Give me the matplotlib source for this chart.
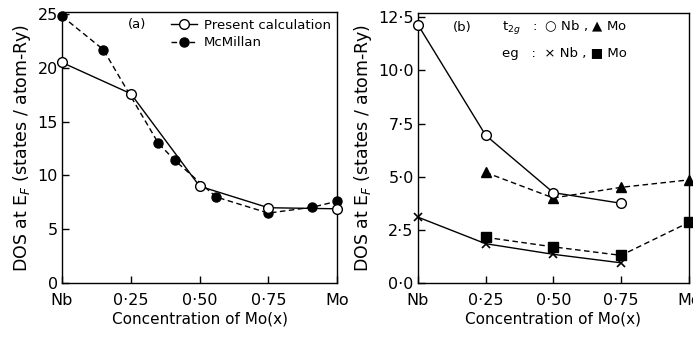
import matplotlib.pyplot as plt

# panel (a): total DOS at E_F
present_x = [0.0, 0.25, 0.50, 0.75, 1.0]
present_y = [20.5, 17.6, 9.0, 7.0, 6.9]
mcmillan_x = [0.0, 0.15, 0.35, 0.41, 0.56, 0.75, 0.91, 1.0]
mcmillan_y = [24.8, 21.7, 13.0, 11.4, 8.0, 6.5, 7.05, 7.6]

# panel (b): partial DOS
t2g_nb_x = [0.0, 0.25, 0.50, 0.75]
t2g_nb_y = [12.15, 6.95, 4.25, 3.75]
t2g_mo_x = [0.25, 0.50, 0.75, 1.0]
t2g_mo_y = [5.2, 4.0, 4.5, 4.85]
eg_nb_x = [0.0, 0.25, 0.50, 0.75]
eg_nb_y = [3.1, 1.85, 1.35, 0.95]
eg_mo_x = [0.25, 0.50, 0.75, 1.0]
eg_mo_y = [2.15, 1.7, 1.3, 2.85]

x_ticks = [0.0, 0.25, 0.50, 0.75, 1.0]
x_labels = ["Nb", "0·25", "0·50", "0·75", "Mo"]
ya_ticks = [0, 5, 10, 15, 20, 25]
yb_ticks = [0.0, 2.5, 5.0, 7.5, 10.0, 12.5]
yb_labels = ["0·0", "2·5", "5·0", "7·5", "10·0", "12·5"]

plt.rcParams["font.family"] = ["DejaVu Sans"]
dash = (0, (4, 2.5))

fig = plt.figure(figsize=(6.93, 3.41), dpi=100)
ax1 = fig.add_axes([0.0895, 0.170, 0.397, 0.795])
ax2 = fig.add_axes([0.603, 0.170, 0.391, 0.792])

ax1.plot(present_x, present_y, "-", color="black", lw=1.0, marker="o",
         ms=7, mfc="white", mec="black", mew=1.0, clip_on=False,
         label="Present calculation", zorder=3)
ax1.plot(mcmillan_x, mcmillan_y, color="black", lw=1.0, ls=dash, marker="o",
         ms=6.5, mfc="black", mec="black", clip_on=False,
         label="McMillan", zorder=2)
ax1.set_xlim(0, 1)
ax1.set_ylim(0, 25.2)
ax1.set_yticks(ya_ticks)
ax1.legend(loc="upper right", frameon=False, fontsize=9.5, handlelength=2.0,
           handletextpad=0.5, borderaxespad=0.1, labelspacing=0.35)
ax1.text(0.24, 0.955, "(a)", transform=ax1.transAxes, fontsize=9.5,
         ha="left", va="center")

ax2.plot(t2g_nb_x, t2g_nb_y, "-", color="black", lw=1.0, marker="o", ms=7,
         mfc="white", mec="black", mew=1.0, clip_on=False, zorder=3)
ax2.plot(t2g_mo_x, t2g_mo_y, color="black", lw=1.0, ls=dash, marker="^",
         ms=7, mfc="black", mec="black", clip_on=False, zorder=2)
ax2.plot(eg_nb_x, eg_nb_y, "-", color="black", lw=1.0, marker="x", ms=6,
         mew=1.2, clip_on=False, zorder=3)
ax2.plot(eg_mo_x, eg_mo_y, color="black", lw=1.0, ls=dash, marker="s",
         ms=6.5, mfc="black", mec="black", clip_on=False, zorder=2)
ax2.set_xlim(0, 1)
ax2.set_ylim(0, 12.7)
ax2.set_yticks(yb_ticks)
ax2.set_yticklabels(yb_labels)
ax2.text(0.13, 0.945, "(b)", transform=ax2.transAxes, fontsize=9.5,
         ha="left", va="center")
ax2.text(0.31, 0.945, "t$_{2g}$   :  ○ Nb , ▲ Mo", transform=ax2.transAxes,
         fontsize=9.5, ha="left", va="center")
ax2.text(0.31, 0.85, "eg   :  × Nb , ■ Mo", transform=ax2.transAxes,
         fontsize=9.5, ha="left", va="center")

for ax in (ax1, ax2):
    ax.set_xticks(x_ticks)
    ax.set_xticklabels(x_labels)
    ax.tick_params(direction="in", length=5, width=1.0, labelsize=11.5)
    ax.tick_params(axis="x", pad=7)
    ax.tick_params(axis="y", pad=3)
    ax.set_xlabel("Concentration of Mo(x)", fontsize=11, labelpad=3)
    ax.set_ylabel("DOS at E$_F$ (states / atom-Ry)", fontsize=12.5, labelpad=3)
    for sp in ax.spines.values():
        sp.set_linewidth(1.0)

fig.savefig("out.png", dpi=100)
